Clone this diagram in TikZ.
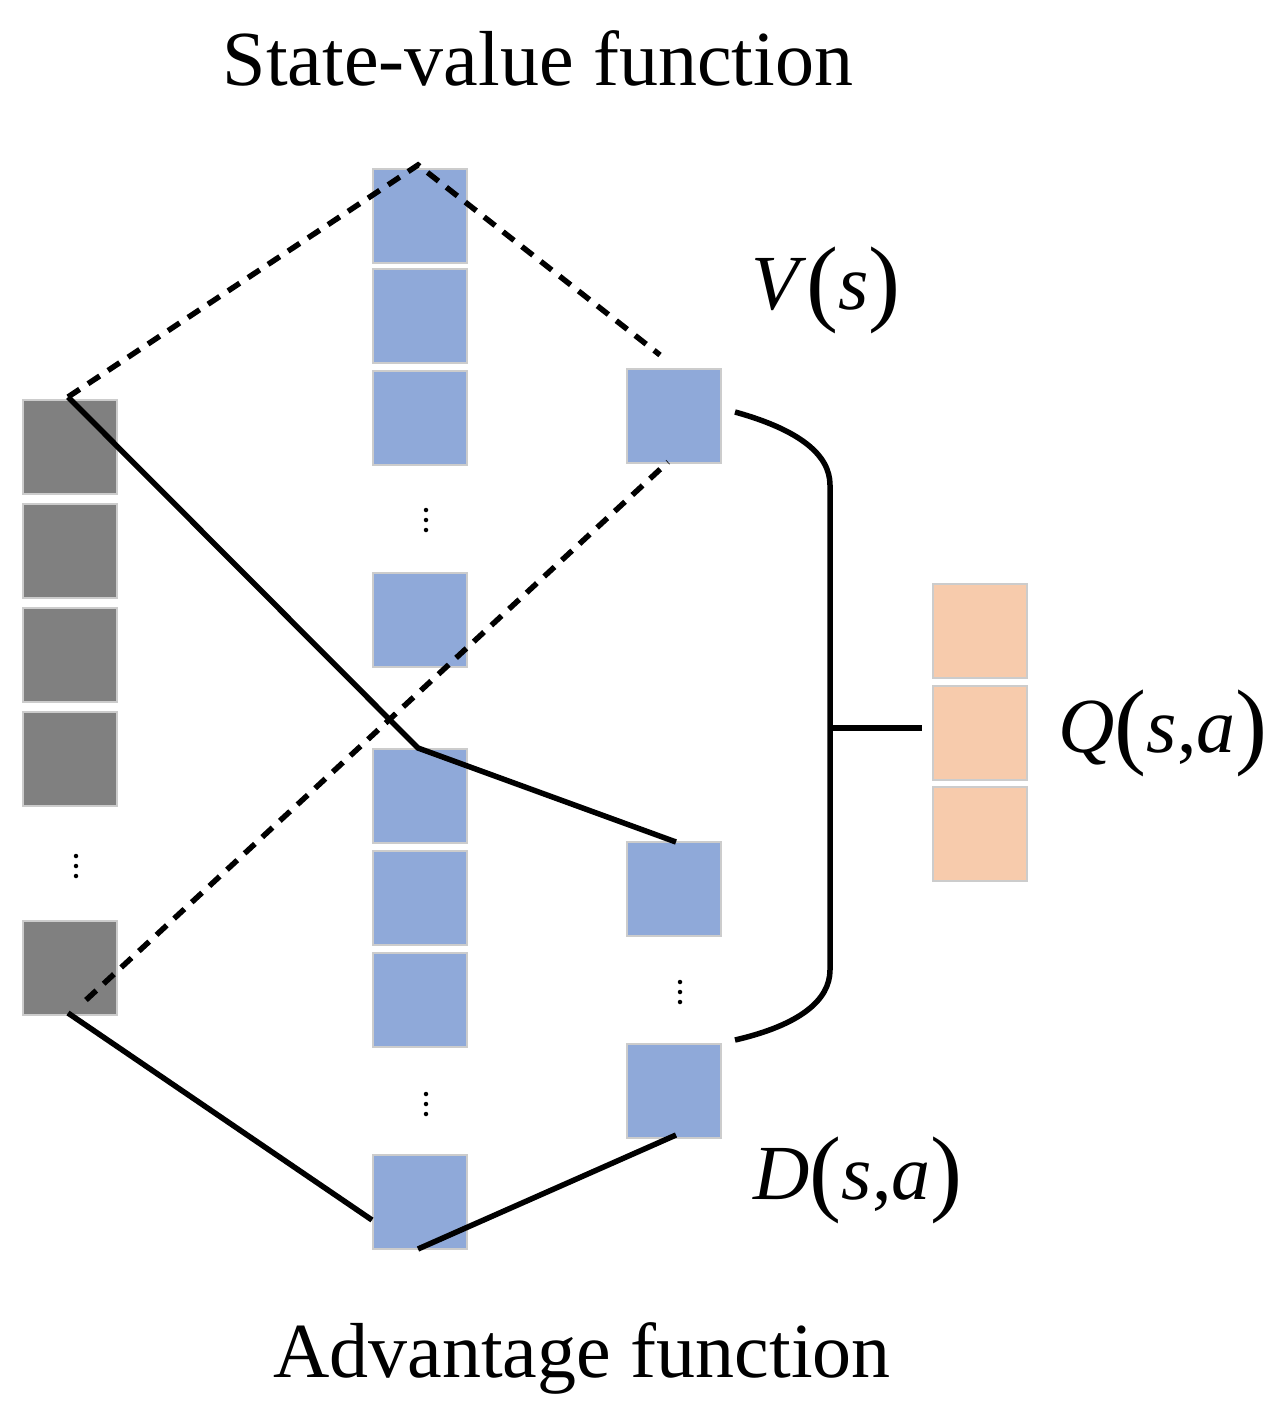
\documentclass[tikz,border=0pt]{standalone}
\usepackage{fontspec}
\setmainfont{Liberation Serif}
\newcommand{\bp}[1]{{\fontsize{96}{96}\selectfont\raisebox{-4pt}{#1}}}
\begin{document}
\begin{tikzpicture}[x=1pt,y=-1pt,
  cell/.style={draw=black!20,line width=2pt,minimum size=94pt,inner sep=0pt,anchor=north west},
  gb/.style={cell,fill=black!50},
  bb/.style={cell,fill={rgb,255:red,143;green,169;blue,217}},
  ob/.style={cell,fill={rgb,255:red,247;green,203;blue,172}},
  ln/.style={line width=5.5pt},
  dl/.style={ln,dash pattern=on 14pt off 10pt},
  lbl/.style={font=\fontsize{78}{90}\selectfont},
  dot/.style={circle,fill=black,inner sep=0pt,minimum size=4.5pt}]
\useasboundingbox (0,0) rectangle (1287,1417);
\newcommand{\vd}[3]{\node[dot] (#1a) at (#2,#3-10) {};\node[dot] (#1b) at (#2,#3) {};\node[dot] (#1c) at (#2,#3+10) {};}
% gray
\node[gb] (g1) at (22,399) {};
\node[gb] (g2) at (22,503) {};
\node[gb] (g3) at (22,607) {};
\node[gb] (g4) at (22,711) {};
\vd{gd}{76}{866}
\node[gb] (g5) at (22,920) {};
% blue col 1
\node[bb] (a1) at (372,168) {};
\node[bb] (a2) at (372,268) {};
\node[bb] (a3) at (372,370) {};
\vd{ad}{426}{520}
\node[bb] (a4) at (372,572) {};
\node[bb] (b1) at (372,748) {};
\node[bb] (b2) at (372,850) {};
\node[bb] (b3) at (372,952) {};
\vd{bd}{426}{1104}
\node[bb] (b4) at (372,1154) {};
% col 2
\node[bb] (v) at (626,368) {};
\node[bb] (d1) at (626,841) {};
\vd{dd}{680}{992}
\node[bb] (d2) at (626,1043) {};
% orange
\node[ob] (q1) at (932,583) {};
\node[ob] (q2) at (932,685) {};
\node[ob] (q3) at (932,786) {};
% coordinates
\coordinate (p0) at (68,397);
\coordinate (p1) at (418,165);
\coordinate (p2) at (660,355);
\coordinate (p3) at (86,1000);
\coordinate (p4) at (668,462);
\coordinate (p5) at (418,748);
\coordinate (p6) at (676,842);
\coordinate (p7) at (68,1013);
\coordinate (p8) at (372,1220);
\coordinate (p9) at (418,1249);
\coordinate (p10) at (676,1135);
\coordinate (c1) at (735,412);
\coordinate (c2) at (735,1040);
\coordinate (c3) at (830,728);
\coordinate (c4) at (922,728);
\draw[dl] (p0) -- (p1) -- (p2);
\draw[dl] (p3) -- (p4);
\draw[ln] (p0) -- (p5) -- (p6);
\draw[ln] (p7) -- (p8);
\draw[ln] (p9) -- (p10);
\draw[ln] (c1) .. controls (800,430) and (830,455) .. (830,485) -- (830,970) .. controls (830,1000) and (800,1025) .. (c2);
\draw[ln] (c3) -- (c4);
% labels
\node[lbl] (t1) at (538,58) {State-value function};
\node[lbl] (t2) at (582,1358) {Advantage function};
\node[lbl] (lv) at (826,290) {\textit{V}\bp{(}\textit{s}\bp{)}};
\node[lbl] (lq) at (1163,733) {\textit{Q}\bp{(}\textit{s},\textit{a}\bp{)}};
\node[lbl] (ld) at (858,1180) {\textit{D}\bp{(}\textit{s},\textit{a}\bp{)}};
\end{tikzpicture}
\end{document}
